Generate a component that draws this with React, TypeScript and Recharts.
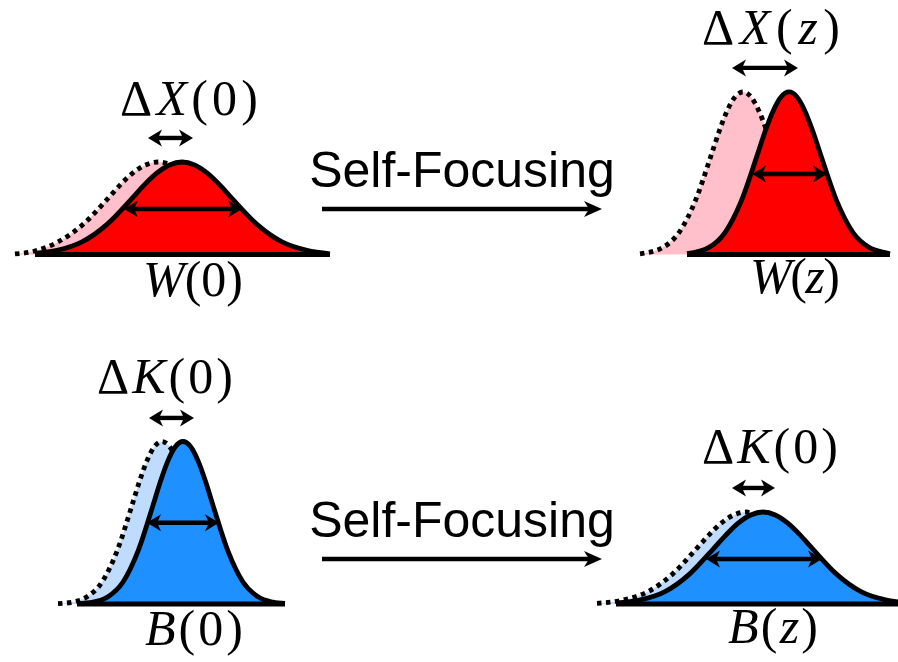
import React from 'react';
import { ComposedChart, Area, XAxis, YAxis, ReferenceLine, ReferenceDot } from 'recharts';

// x: transverse position (arbitrary units), y: intensity (peak of narrow beam = 1)

// ---------- Row 1 : W (position space) ----------
const W0_SOLID_X = [3.5, 5.7, 8.2, 10.7, 13.2, 14.45, 15.7, 16.95, 18.2, 19.45, 20.7, 21.95, 23.2, 25.7, 28.2, 30.7, 33.0];
const W0_SOLID_Y = [0.007, 0.025, 0.077, 0.185, 0.345, 0.43, 0.502, 0.551, 0.569, 0.551, 0.502, 0.43, 0.345, 0.185, 0.077, 0.025, 0.004];
const W0_DOT_X = [1.5, 3.4, 5.8, 8.3, 10.8, 12.05, 13.3, 14.55, 15.8, 17.05, 18.3, 19.55, 20.8, 23.3, 25.8, 28.3, 30.8];
const W0_DOT_Y = [0.003, 0.02, 0.077, 0.185, 0.345, 0.43, 0.502, 0.551, 0.569, 0.551, 0.502, 0.43, 0.345, 0.185, 0.077, 0.025, 0.006];

const WZ_SOLID_X = [68.7, 70.9, 72.5, 74.1, 75.7, 76.5, 77.3, 78.1, 78.9, 79.7, 80.5, 81.3, 82.1, 83.7, 85.3, 86.9, 88.5, 89.0];
const WZ_SOLID_Y = [0.005, 0.044, 0.135, 0.325, 0.607, 0.755, 0.882, 0.969, 1.0, 0.969, 0.882, 0.755, 0.607, 0.325, 0.135, 0.044, 0.011, 0.004];
const WZ_DOT_X = [64.0, 66.3, 67.9, 69.5, 71.1, 71.9, 72.7, 73.5, 74.3, 75.1, 75.9, 76.7, 77.5, 79.1, 80.7, 82.3, 83.9];
const WZ_DOT_Y = [0.004, 0.044, 0.135, 0.325, 0.607, 0.755, 0.882, 0.969, 1.0, 0.969, 0.882, 0.755, 0.607, 0.325, 0.135, 0.044, 0.011];

// ---------- Row 2 : B (momentum space) ----------
const B0_SOLID_X = [7.7, 9.3, 10.8, 12.3, 13.8, 15.3, 16.05, 16.8, 17.55, 18.3, 19.05, 19.8, 20.55, 21.3, 22.8, 24.3, 25.8, 27.3, 28.5];
const B0_SOLID_Y = [0.002, 0.011, 0.044, 0.135, 0.325, 0.607, 0.755, 0.882, 0.969, 1.0, 0.969, 0.882, 0.755, 0.607, 0.325, 0.135, 0.044, 0.011, 0.003];
const B0_DOT_X = [5.8, 7.2, 8.7, 10.2, 11.7, 13.2, 13.95, 14.7, 15.45, 16.2, 16.95, 17.7, 18.45, 19.2, 20.7, 22.2, 23.7, 25.2];
const B0_DOT_Y = [0.002, 0.011, 0.044, 0.135, 0.325, 0.607, 0.755, 0.882, 0.969, 1.0, 0.969, 0.882, 0.755, 0.607, 0.325, 0.135, 0.044, 0.011];

const BZ_SOLID_X = [61.6, 64.05, 66.5, 68.95, 71.4, 72.63, 73.85, 75.08, 76.3, 77.53, 78.75, 79.98, 81.2, 83.65, 86.1, 88.55, 89.8];
const BZ_SOLID_Y = [0.006, 0.025, 0.076, 0.184, 0.344, 0.427, 0.499, 0.548, 0.566, 0.548, 0.499, 0.427, 0.344, 0.184, 0.076, 0.025, 0.013];
const BZ_DOT_X = [59.7, 62.35, 64.8, 67.25, 69.7, 70.93, 72.15, 73.38, 74.6, 75.83, 77.05, 78.28, 79.5, 81.95, 84.4, 86.85, 89.3];
const BZ_DOT_Y = [0.004, 0.025, 0.076, 0.184, 0.344, 0.427, 0.499, 0.548, 0.566, 0.548, 0.499, 0.427, 0.344, 0.184, 0.076, 0.025, 0.006];

// baselines [start, end]
const ROW1_BASELINES = [[3.5, 33.0], [68.7, 89.0]];
const ROW2_BASELINES = [[7.7, 28.5], [61.6, 89.8]];

// width (FWHM) arrows: [x1, x2, y]
const ROW1_WIDTH_ARROWS = [[12.4, 24.2, 0.28], [75.2, 82.7, 0.495]];
const ROW2_WIDTH_ARROWS = [[14.7, 21.9, 0.5], [70.6, 82.2, 0.277]];
// uncertainty arrows: [x1, x2, y]
const ROW1_DELTA_ARROWS = [[14.8, 19.3, 0.717], [73.2, 79.8, 1.148]];
const ROW2_DELTA_ARROWS = [[14.9, 19.4, 1.145], [73.2, 77.5, 0.714]];

// labels
const ARROW_TEXT = 'Self-Focusing';
const ROW1_LABELS = [
  { x: 18.9, y: 0.858, w: 138, parts: [['Δ', 0], ['X', 1], ['(0)', 0]] },
  { x: 19.3, y: -0.255, w: 100, parts: [['W', 1], ['(0)', 0]] },
  { x: 77.1, y: 1.295, w: 138, parts: [['Δ', 0], ['X', 1], ['(', 0], ['z', 1], [')', 0]] },
  { x: 79.5, y: -0.237, w: 90, parts: [['W', 1], ['(', 0], ['z', 1], [')', 0]] },
];
const ROW2_LABELS = [
  { x: 16.5, y: 1.298, w: 136, parts: [['Δ', 0], ['K', 1], ['(0)', 0]] },
  { x: 19.4, y: -0.252, w: 98, parts: [['B', 1], ['(0)', 0]] },
  { x: 77.0, y: 0.868, w: 136, parts: [['Δ', 0], ['K', 1], ['(0)', 0]] },
  { x: 77.3, y: -0.24, w: 90, parts: [['B', 1], ['(', 0], ['z', 1], [')', 0]] },
];
const FOCUS_ARROW = [32.2, 60.2]; // x range
const ROW1_FOCUS_Y = 0.28;
const ROW2_FOCUS_Y = 0.277;

const ROW1_Y_DOMAIN = [-0.471, 1.566];
const ROW2_Y_DOMAIN = [-0.357, 1.68];
const X_DOMAIN = [0, 89.8];

function buildTable(series: [string, number[], number[]][]) {
  const rows: any[] = [];
  series.forEach(([key, xs, ys]) => {
    xs.forEach((x, i) => rows.push({ x, [key]: ys[i] }));
  });
  rows.sort((a, b) => a.x - b.x);
  return rows;
}

const row1Data = buildTable([
  ['w0d', W0_DOT_X, W0_DOT_Y],
  ['w0s', W0_SOLID_X, W0_SOLID_Y],
  ['wzd', WZ_DOT_X, WZ_DOT_Y],
  ['wzs', WZ_SOLID_X, WZ_SOLID_Y],
]);
const row2Data = buildTable([
  ['b0d', B0_DOT_X, B0_DOT_Y],
  ['b0s', B0_SOLID_X, B0_SOLID_Y],
  ['bzd', BZ_DOT_X, BZ_DOT_Y],
  ['bzs', BZ_SOLID_X, BZ_SOLID_Y],
]);

const head = (tx: number, ty: number, dir: number, hl: number, hw: number) =>
  `${tx},${ty} ${tx + dir * hl},${ty - hw} ${tx + dir * hl * 0.72},${ty} ${tx + dir * hl},${ty + hw}`;

const DoubleArrow = (props: any) => {
  const { x1, y1, x2 } = props;
  const hl = 14, hw = 8.5;
  return (
    <g>
      <line x1={x1 + hl * 0.6} y1={y1} x2={x2 - hl * 0.6} y2={y1} stroke="#000" strokeWidth={4.4} />
      <polygon points={head(x1, y1, 1, hl, hw)} fill="#000" />
      <polygon points={head(x2, y1, -1, hl, hw)} fill="#000" />
    </g>
  );
};

const FocusArrow = (props: any) => {
  const { x1, y1, x2 } = props;
  const hl = 18, hw = 8;
  return (
    <g>
      <line x1={x1} y1={y1} x2={x2 - hl * 0.6} y2={y1} stroke="#000" strokeWidth={4.5} />
      <polygon points={head(x2, y1, -1, hl, hw)} fill="#000" />
      <text
        x={(x1 + x2) / 2}
        y={y1 - 22}
        textAnchor="middle"
        fontFamily="'Liberation Sans', Arial, sans-serif"
        fontSize={50}
        fill="#000"
      >
        {ARROW_TEXT}
      </text>
    </g>
  );
};

const makeLabel = (parts: any[], w: number) => (props: any) => {
  const { cx, cy } = props;
  return (
    <text
      x={cx}
      y={cy}
      textAnchor="middle"
      fontFamily="'Liberation Serif', 'Times New Roman', serif"
      fontSize={50}
      textLength={w}
      lengthAdjust="spacing"
      fill="#000"
    >
      {parts.map((p: any, i: number) => (
        <tspan key={i} fontStyle={p[1] ? 'italic' : 'normal'}>
          {p[0]}
        </tspan>
      ))}
    </text>
  );
};

function Row({ data, keys, fills, yDomain, baselines, widthArrows, deltaArrows, labels, focusY }: any) {
  return (
    <ComposedChart width={898} height={331} data={data} margin={{ top: 0, right: 0, bottom: 0, left: 0 }}>
      <XAxis type="number" dataKey="x" domain={X_DOMAIN} hide allowDataOverflow />
      <YAxis type="number" domain={yDomain} hide allowDataOverflow />
      {keys.map((k: string[], i: number) => (
        <Area
          key={k[0]}
          dataKey={k[0]}
          type="monotone"
          baseValue={0}
          connectNulls
          stroke="#000"
          strokeWidth={4.8}
          strokeDasharray="4.5 4.5"
          fill={fills[i][0]}
          fillOpacity={1}
          dot={false}
          activeDot={false}
          isAnimationActive={false}
        />
      ))}
      {keys.map((k: string[], i: number) => (
        <Area
          key={k[1]}
          dataKey={k[1]}
          type="monotone"
          baseValue={0}
          connectNulls
          stroke="#000"
          strokeWidth={4.8}
          fill={fills[i][1]}
          fillOpacity={1}
          dot={false}
          activeDot={false}
          isAnimationActive={false}
        />
      ))}
      {baselines.map((b: number[], i: number) => (
        <ReferenceLine
          key={'b' + i}
          segment={[{ x: b[0], y: 0 }, { x: b[1], y: 0 }]}
          stroke="#000"
          strokeWidth={5}
          ifOverflow="visible"
        />
      ))}
      {widthArrows.concat(deltaArrows).map((a: number[], i: number) => (
        <ReferenceLine
          key={'a' + i}
          segment={[{ x: a[0], y: a[2] }, { x: a[1], y: a[2] }]}
          shape={DoubleArrow}
          ifOverflow="visible"
        />
      ))}
      <ReferenceLine
        segment={[{ x: FOCUS_ARROW[0], y: focusY }, { x: FOCUS_ARROW[1], y: focusY }]}
        shape={FocusArrow}
        ifOverflow="visible"
      />
      {labels.map((l: any, i: number) => (
        <ReferenceDot key={'l' + i} x={l.x} y={l.y} r={0} shape={makeLabel(l.parts, l.w)} ifOverflow="visible" />
      ))}
    </ComposedChart>
  );
}

export default function App() {
  return (
    <div style={{ position: 'absolute', left: 0, top: 0, width: 898, height: 662, background: '#fff' }}>
      <div style={{ position: 'absolute', left: 0, top: 0 }}>
        <Row
          data={row1Data}
          keys={[['w0d', 'w0s'], ['wzd', 'wzs']]}
          fills={[['#ffc0cb', '#ff0000'], ['#ffc0cb', '#ff0000']]}
          yDomain={ROW1_Y_DOMAIN}
          baselines={ROW1_BASELINES}
          widthArrows={ROW1_WIDTH_ARROWS}
          deltaArrows={ROW1_DELTA_ARROWS}
          labels={ROW1_LABELS}
          focusY={ROW1_FOCUS_Y}
        />
      </div>
      <div style={{ position: 'absolute', left: 0, top: 331 }}>
        <Row
          data={row2Data}
          keys={[['b0d', 'b0s'], ['bzd', 'bzs']]}
          fills={[['#bfdcff', '#1e90ff'], ['#bfdcff', '#1e90ff']]}
          yDomain={ROW2_Y_DOMAIN}
          baselines={ROW2_BASELINES}
          widthArrows={ROW2_WIDTH_ARROWS}
          deltaArrows={ROW2_DELTA_ARROWS}
          labels={ROW2_LABELS}
          focusY={ROW2_FOCUS_Y}
        />
      </div>
    </div>
  );
}
